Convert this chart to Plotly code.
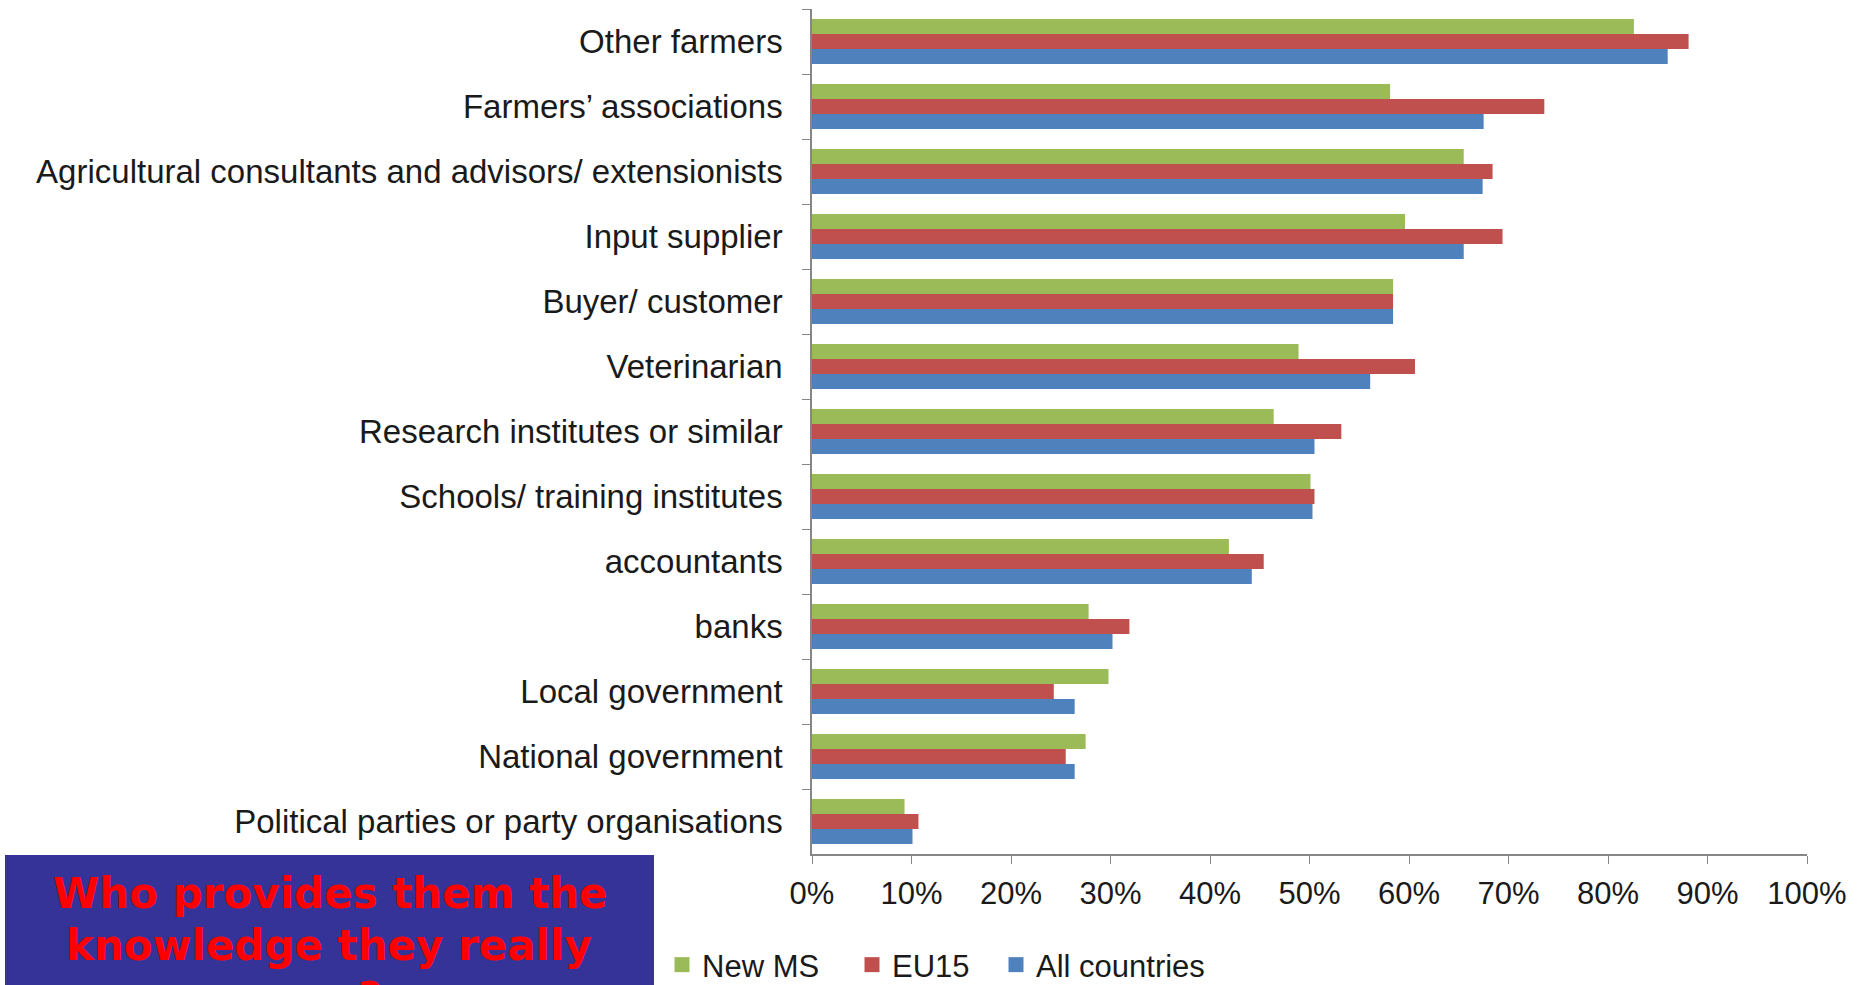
import plotly.graph_objects as go

categories = [
    "Other farmers",
    "Farmers’ associations",
    "Agricultural consultants and advisors/ extensionists",
    "Input supplier",
    "Buyer/ customer",
    "Veterinarian",
    "Research institutes or similar",
    "Schools/ training institutes",
    "accountants",
    "banks",
    "Local government",
    "National government",
    "Political parties or party organisations",
]
new_ms = [82.6, 58.1, 65.5, 59.6, 58.4, 48.9, 46.4, 50.1, 41.9, 27.8, 29.8, 27.5, 9.3]
eu15 = [88.1, 73.6, 68.4, 69.4, 58.4, 60.6, 53.2, 50.5, 45.4, 31.9, 24.3, 25.5, 10.7]
all_countries = [86.0, 67.5, 67.4, 65.5, 58.4, 56.1, 50.5, 50.3, 44.2, 30.2, 26.4, 26.4, 10.1]

series_names = ["New MS", "EU15", "All countries"]
series_values = [new_ms, eu15, all_countries]
series_colors = ["#9BBB59", "#C0504D", "#4F81BD"]

x_ticks = [0, 10, 20, 30, 40, 50, 60, 70, 80, 90, 100]
x_tick_labels = [f"{v}%" for v in x_ticks]

box_lines = ["Who provides them the", "knowledge they really", "?"]

W, H = 1862, 985
L, R, T, B = 812, 1807, 9, 854

fig = go.Figure()
for name, vals, col in zip(series_names, series_values, series_colors):
    fig.add_trace(go.Bar(
        y=categories, x=vals, name=name, orientation="h",
        marker=dict(color=col, line=dict(width=0)), showlegend=False,
    ))

legend_ids = ["legend", "legend2", "legend3"]
legend_x_px = [662, 852, 996]
# legend entries with larger square swatches, each in its own legend box
for name, col, lid in zip(series_names, series_colors, legend_ids):
    fig.add_trace(go.Scatter(
        x=[None], y=[None], mode="markers", name=name, legend=lid,
        marker=dict(symbol="square", size=15, color=col),
    ))

def px_x(p):
    return (p - L) / (R - L)

def px_y(p):
    return (B - p) / (B - T)

legend_style = dict(orientation="h", xanchor="left", yanchor="middle",
                    font=dict(size=31), itemwidth=30, bgcolor="rgba(0,0,0,0)",
                    itemclick=False, itemdoubleclick=False)

fig.update_layout(
    width=W, height=H,
    margin=dict(l=L, r=W - R, t=T, b=H - B, autoexpand=False),
    paper_bgcolor="white", plot_bgcolor="white",
    barmode="group", bargap=0.31, bargroupgap=0,
    font=dict(family="Liberation Sans, Arial, sans-serif", color="#1a1a1a", size=31),
    showlegend=True,
)
for lid, lx in zip(legend_ids, legend_x_px):
    fig.update_layout({lid: dict(legend_style, x=px_x(lx), y=px_y(965))})

fig.update_yaxes(
    type="category", categoryorder="array", categoryarray=categories,
    autorange="reversed", tickson="boundaries", ticks="outside", ticklen=8,
    tickcolor="#868686", showline=True, linecolor="#868686", linewidth=1.5,
    showgrid=False, tickfont=dict(size=33, color="#1a1a1a"), ticklabelstandoff=21,
)
fig.update_xaxes(
    range=[0, 100], tickvals=x_ticks, ticktext=x_tick_labels, ticks="outside",
    ticklen=8, tickcolor="#868686", showline=True, linecolor="#868686", linewidth=1.5,
    showgrid=False, zeroline=False, tickfont=dict(size=31, color="#1a1a1a"),
    ticklabelstandoff=3,
)

fig.add_shape(type="rect", xref="paper", yref="paper",
              x0=px_x(5), x1=px_x(654), y0=px_y(1000), y1=px_y(855),
              fillcolor="#353397", line=dict(width=0), layer="above")

box_centers = [(330, 893), (329, 945), (370, 997)]
for txt, (cx, cy) in zip(box_lines, box_centers):
    fig.add_annotation(text=f"<b>{txt}</b>", xref="paper", yref="paper",
                       x=px_x(cx), y=px_y(cy), xanchor="center", yanchor="middle",
                       showarrow=False,
                       font=dict(family="DejaVu Sans", size=42, color="#FF0000"))

fig.write_html(
    "out.html",
    config={"displayModeBar": False},
    post_script="document.body.style.margin='0';document.body.style.overflow='hidden';",
)
